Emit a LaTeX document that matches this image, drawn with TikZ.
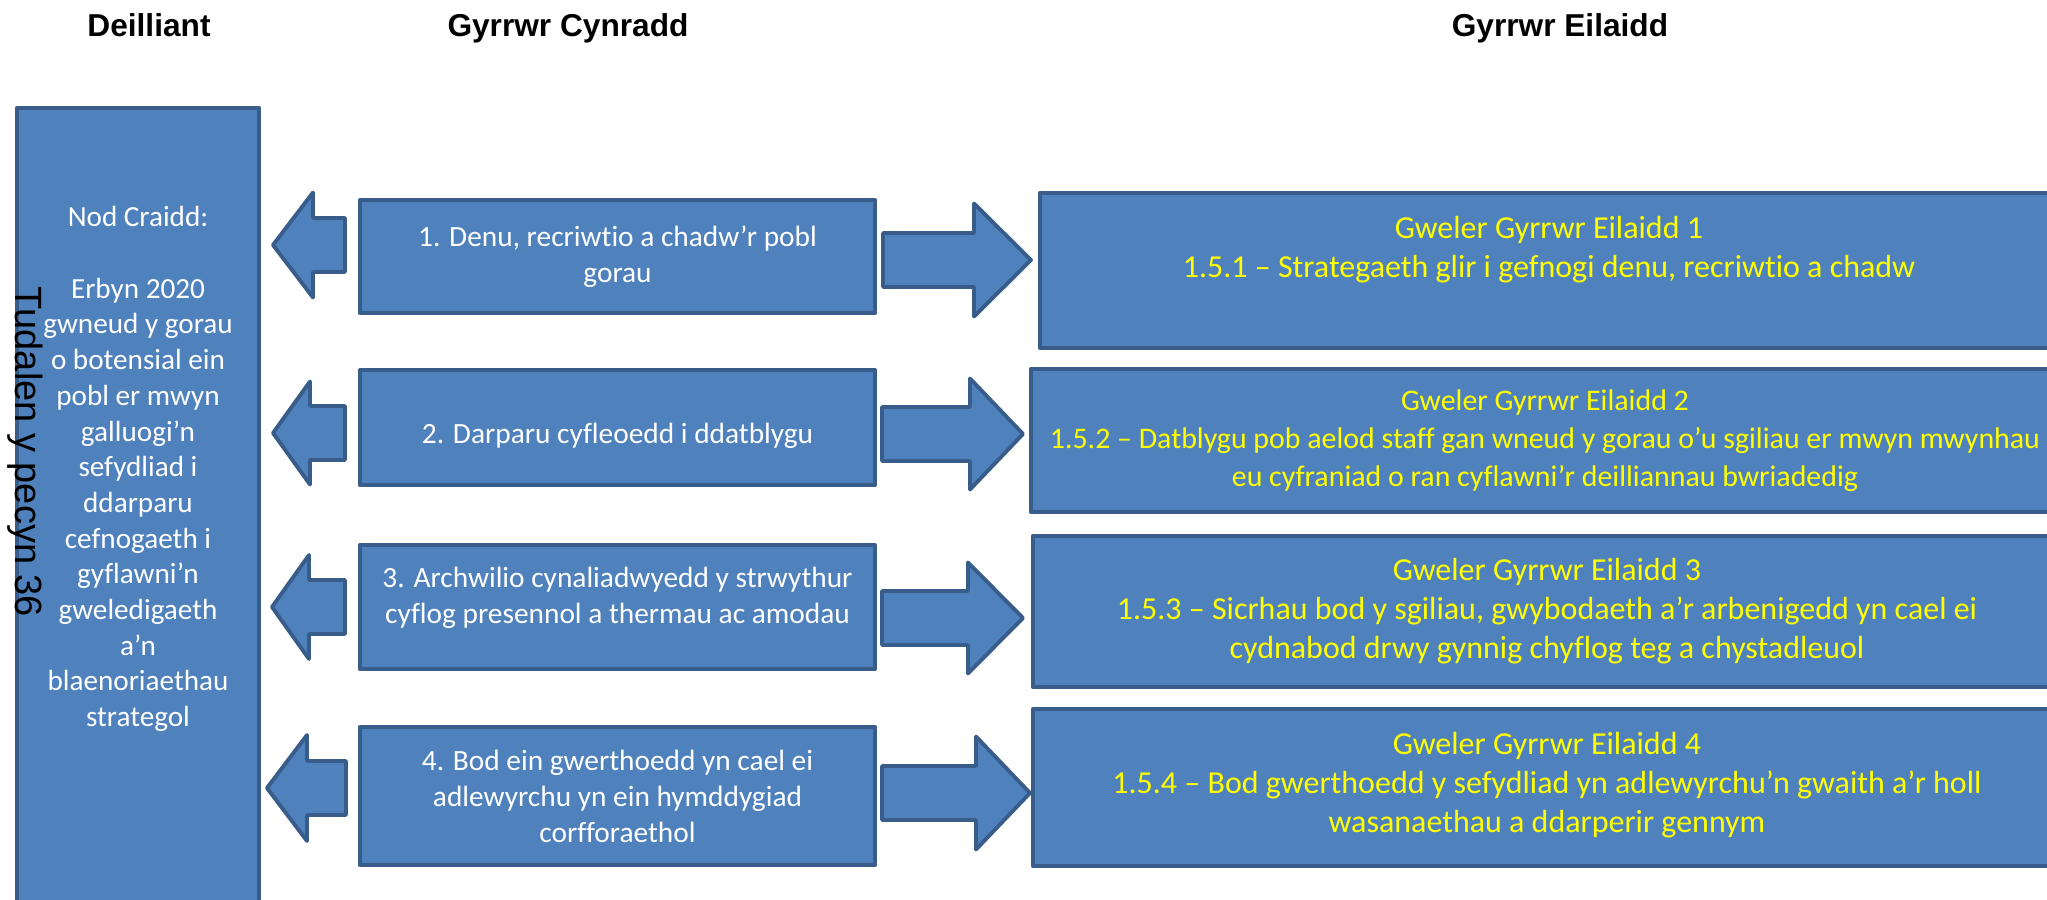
\documentclass[tikz,border=0pt]{standalone}
\usepackage{fontspec}
\setmainfont{Carlito}[Ligatures=NoCommon]
\newfontfamily\arialfont{Liberation Sans}
\usetikzlibrary{positioning}
\definecolor{boxfill}{HTML}{4F81BD}
\definecolor{boxline}{HTML}{385D8A}
\definecolor{seeyellow}{HTML}{FFFF00}
\tikzset{
    basebox/.style={draw=boxline, fill=boxfill, line width=1.1pt, line join=round, inner sep=0pt},
    goalbox/.style={basebox, minimum width=2.42cm, minimum height=8.52cm},
    goaltext/.style={text=white, align=center, inner sep=0pt, font=\fontsize{8.3}{10.15}\selectfont},
    drivebox/.style={basebox, minimum width=5.15cm, text=white, align=center, font=\fontsize{8.35}{10.25}\selectfont},
    seebox/.style={basebox, text=seeyellow, align=center, font=\fontsize{9.1}{11.1}\selectfont},
    heading/.style={anchor=base, inner sep=0pt, font=\arialfont\bfseries\fontsize{9}{11}\selectfont},
    pagetag/.style={anchor=base, rotate=-90, inner sep=0pt, font=\arialfont\fontsize{10.8}{13}\selectfont},
    blockarrow/.style={draw=boxline, fill=boxfill, line width=1.1pt, line join=round}
}
% block arrow: tip x, tip y, head base x, tail x, half head width
\newcommand{\blockarr}[5]{%
    \draw[blockarrow] (#1,#2) -- (#3,#2-#5) -- (#3,#2-27) -- (#4,#2-27)
        -- (#4,#2+27) -- (#3,#2+27) -- (#3,#2+#5) -- cycle;}

\begin{document}
\begin{tikzpicture}[x=0.01cm, y=-0.01cm]
    \path[use as bounding box, clip] (0,0) rectangle (2047,900);
    % headings
    \node[heading] (hdeil) at (149,36) {Deilliant};
    \node[heading] (hcyn) at (568,36) {Gyrrwr Cynradd};
    \node[heading] (heil) at (1560,36) {Gyrrwr Eilaidd};
    % outcome
    \node[goalbox] (goal) at (138,534) {};
    \node[goaltext, below=1cm of goal.north] (goaltxt) {Nod Craidd:\\[\baselineskip]Erbyn 2020\\gwneud y gorau\\o botensial ein\\pobl er mwyn\\galluogi’n\\sefydliad i\\ddarparu\\cefnogaeth i\\gyflawni’n\\gweledigaeth\\a’n\\blaenoriaethau\\strategol};
    \node[pagetag] (tag) at (15,452) {Tudalen y pecyn 36};
    % primary drivers
    \node[drivebox, minimum height=1.13cm] (p1) at (617.5,256.5) {1. Denu, recriwtio a chadw’r pobl\\gorau};
    \node[drivebox, minimum height=1.15cm] (p2) at (617.5,427.5) {\mbox{}\\2. Darparu cyfleoedd i ddatblygu};
    \node[drivebox, minimum height=1.24cm] (p3) at (617.5,607) {3. Archwilio cynaliadwyedd y strwythur\\cyflog presennol a thermau ac amodau\\[-0.33\baselineskip]\mbox{}};
    \node[drivebox, minimum height=1.38cm] (p4) at (617.5,796) {4. Bod ein gwerthoedd yn cael ei\\adlewyrchu yn ein hymddygiad\\corfforaethol};
    % secondary drivers
    \node[seebox, minimum width=10.18cm, minimum height=1.55cm] (s1) at (1549,270.5) {Gweler Gyrrwr Eilaidd 1\\1.5.1 – Strategaeth glir i gefnogi denu, recriwtio a chadw\\[0.2\baselineskip]\mbox{}};
    \node[seebox, minimum width=10.28cm, minimum height=1.43cm, font=\fontsize{8.5}{10.8}\selectfont] (s2) at (1545,440.5) {Gweler Gyrrwr Eilaidd 2\\1.5.2 – Datblygu pob aelod staff gan wneud y gorau o’u sgiliau er mwyn mwynhau\\eu cyfraniad o ran cyflawni’r deilliannau bwriadedig};
    \node[seebox, minimum width=10.28cm, minimum height=1.51cm] (s3) at (1547,611.5) {Gweler Gyrrwr Eilaidd 3\\1.5.3 – Sicrhau bod y sgiliau, gwybodaeth a’r arbenigedd yn cael ei\\cydnabod drwy gynnig chyflog teg a chystadleuol};
    \node[seebox, minimum width=10.28cm, minimum height=1.57cm] (s4) at (1547,787.5) {Gweler Gyrrwr Eilaidd 4\\1.5.4 – Bod gwerthoedd y sefydliad yn adlewyrchu’n gwaith a’r holl\\wasanaethau a ddarperir gennym\\[-0.75\baselineskip]\mbox{}};
    % arrows to the outcome
    \blockarr{273}{245}{313}{345}{52.5}
    \blockarr{273}{433}{310}{345}{51.5}
    \blockarr{272}{607}{309}{345}{52}
    \blockarr{267}{788}{307}{346}{53}
    % arrows to the secondary drivers
    \blockarr{1031}{260}{974}{883}{56.5}
    \blockarr{1023}{434}{970}{882}{55.5}
    \blockarr{1023}{618}{968}{882}{55.5}
    \blockarr{1030}{793}{976}{882}{56.5}
\end{tikzpicture}
\end{document}
